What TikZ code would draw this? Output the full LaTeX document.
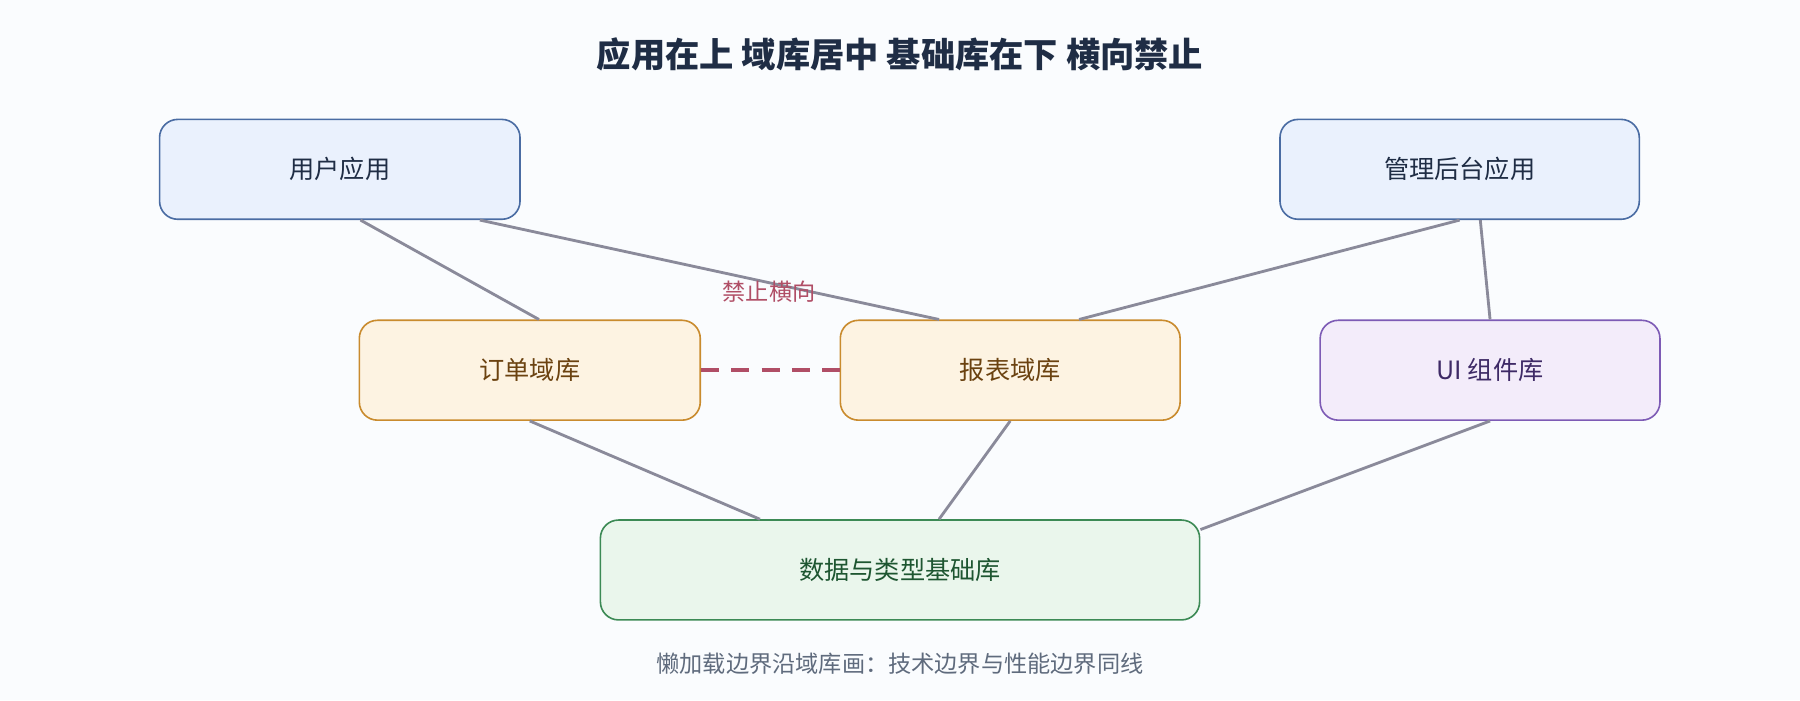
\documentclass[tikz,border=0pt]{standalone}
\usepackage{fontspec}
\setmainfont{Noto Sans CJK SC}
\usetikzlibrary{calc}
\definecolor{bgc}{HTML}{FAFCFE}
\definecolor{titlec}{HTML}{1F2D45}\definecolor{notec}{HTML}{5F6B7D}
\definecolor{appfill}{HTML}{EAF1FD}\definecolor{appdraw}{HTML}{4A6CA3}
\definecolor{domfill}{HTML}{FDF3E2}\definecolor{domdraw}{HTML}{C98B2E}\definecolor{domtext}{HTML}{6B4210}
\definecolor{uifill}{HTML}{F3ECFA}\definecolor{uidraw}{HTML}{7D5BB5}\definecolor{uitext}{HTML}{3E2A66}
\definecolor{basefill}{HTML}{EAF6EC}\definecolor{basedraw}{HTML}{3C8A55}\definecolor{basetext}{HTML}{1E5631}
\definecolor{linkc}{HTML}{8A8A9A}\definecolor{banc}{HTML}{B04E66}
\begin{document}
\begin{tikzpicture}[x=0.02cm,y=-0.02cm,
    box/.style={rounded corners=9pt,line width=0.8pt,minimum height=87*0.02cm,font=\fontsize{12.5}{15}\selectfont},
    app/.style={box,fill=appfill,draw=appdraw,text=titlec},
    dom/.style={box,fill=domfill,draw=domdraw,text=domtext},
    uilib/.style={box,fill=uifill,draw=uidraw,text=uitext},
    base/.style={box,fill=basefill,draw=basedraw,text=basetext},
    link/.style={draw=linkc,line width=1.4pt}]
  % canvas
  \fill[bgc] (0,0) rectangle (1568,610);
  \node[font=\bfseries\fontsize{17}{20}\selectfont,text=titlec] (title) at (784,47) {应用在上 域库居中 基础库在下 横向禁止};
  % apps
  \node[app,minimum width=314*0.02cm] (uapp) at (296,147.5) {用户应用};
  \node[app,minimum width=313*0.02cm] (mapp) at (1271.5,147.5) {管理后台应用};
  % domain libs
  \node[dom,minimum width=297*0.02cm] (order) at (461.5,322.5) {订单域库};
  \node[dom,minimum width=296*0.02cm] (report) at (880,322.5) {报表域库};
  \node[uilib,minimum width=296*0.02cm] (ui) at (1298,322.5) {UI 组件库};
  % base
  \node[base,minimum width=522*0.02cm] (core) at (784,496.5) {数据与类型基础库};
  % links
  \draw[link] ($(uapp.south)+(18,0)$) -- ($(order.north)+(8,0)$);
  \draw[link] ($(uapp.south)+(122,0)$) -- ($(report.north)+(-62,0)$);
  \draw[link] ($(mapp.south)+(0,0)$) -- ($(report.north)+(60,0)$);
  \draw[link] ($(mapp.south)+(18,0)$) -- (ui.north);
  \draw[link] (order.south) -- ($(core.north)+(-122,0)$);
  \draw[link] (report.south) -- ($(core.north)+(34,0)$);
  \draw[link] (ui.south) -- ($(core.north east)+(0,9)$);
  % banned
  \draw[banc,line width=2pt,dash pattern=on 9pt off 6pt] (order.east) -- (report.west);
  \node[text=banc,font=\fontsize{11.5}{14}\selectfont] (ban) at (670,254) {禁止横向};
  \node[text=notec,font=\fontsize{11.5}{14}\selectfont] (note) at (784,578) {懒加载边界沿域库画：技术边界与性能边界同线};
\end{tikzpicture}
\end{document}
